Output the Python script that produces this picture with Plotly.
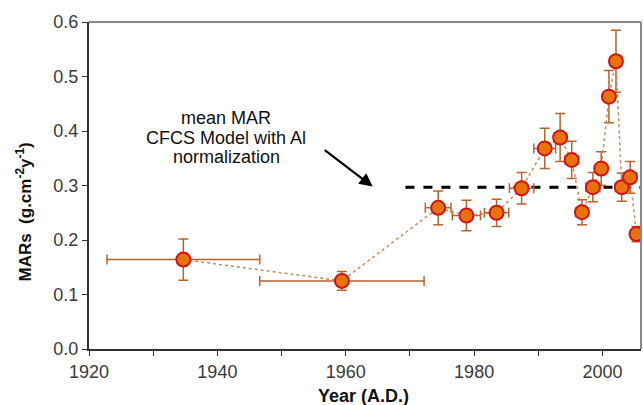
import plotly.graph_objects as go

years = [1934.7, 1959.4, 1974.4, 1978.8, 1983.5, 1987.4, 1991.0, 1993.4, 1995.2,
         1996.8, 1998.5, 1999.8, 2001.0, 2002.1, 2003.0, 2004.3, 2005.3]
mars = [0.164, 0.125, 0.259, 0.245, 0.250, 0.295, 0.368, 0.388, 0.347,
        0.251, 0.297, 0.331, 0.463, 0.528, 0.297, 0.315, 0.211]
year_err = [11.9, 12.8, 2.0, 2.2, 1.9, 1.9, 1.7, 1.0, 1.0,
            1.0, 1.1, 0.9, 0.9, 0.9, 1.0, 1.0, 0.9]
mar_err = [0.038, 0.017, 0.031, 0.028, 0.025, 0.029, 0.037, 0.044, 0.034,
           0.023, 0.027, 0.031, 0.048, 0.057, 0.026, 0.029, 0.014]
mean_mar = 0.297
mean_x = [1969.3, 2006]
y_ticks = [0.0, 0.1, 0.2, 0.3, 0.4, 0.5, 0.6]
x_ticks = [1920, 1940, 1960, 1980, 2000]
note_lines = ["mean MAR", "CFCS Model with Al", "normalization"]
note_y = [0.4236, 0.388, 0.352]

FONT = "Liberation Sans, Arial, sans-serif"
err_col = "#B8632C"
fig = go.Figure()
fig.add_trace(go.Scatter(
    x=mean_x, y=[mean_mar, mean_mar], mode="lines",
    line=dict(color="black", width=3, dash="dash"), showlegend=False, hoverinfo="skip"))
fig.add_trace(go.Scatter(
    x=years, y=mars, mode="lines+markers",
    line=dict(color="#C98A5A", width=1.5, dash="dot"),
    marker=dict(size=14, color="#E8730A", line=dict(color="#D41414", width=2)),
    error_x=dict(type="data", array=year_err, color=err_col, thickness=1.5, width=5),
    error_y=dict(type="data", array=mar_err, color=err_col, thickness=1.5, width=5),
    showlegend=False))

fig.add_annotation(x=1964.2, y=0.298, ax=1956.5, ay=0.367, xref="x", yref="y",
                   axref="x", ayref="y", text="", showarrow=True,
                   arrowhead=2, arrowsize=1.2, arrowwidth=2.2, arrowcolor="black")
for line_text, ly in zip(note_lines, note_y):
    fig.add_annotation(x=1941.4, y=ly, xref="x", yref="y", showarrow=False,
                       text=line_text, xanchor="center", yanchor="middle",
                       font=dict(family=FONT, size=18, color="#111"))

fig.add_annotation(x=-0.118, y=0.42, xref="paper", yref="paper", showarrow=False,
                   text="<b>MARs&nbsp;&nbsp;(g.cm<sup>-2</sup>y<sup>-1</sup>)</b>", textangle=-90,
                   xanchor="center", yanchor="middle",
                   font=dict(family=FONT, size=17, color="#111"))
fig.add_annotation(x=0.497, y=-0.144, xref="paper", yref="paper", showarrow=False,
                   text="<b>Year (A.D.)</b>", xanchor="center", yanchor="middle",
                   font=dict(family=FONT, size=18, color="#111"))

axis_font = dict(family=FONT, size=18, color="#3a3a3a")
fig.update_layout(
    width=643, height=405, margin=dict(l=89, r=2, t=22, b=56),
    plot_bgcolor="white", paper_bgcolor="white",
    font=dict(family=FONT),
    xaxis=dict(range=[1920, 2006], tickvals=x_ticks, ticks="outside", ticklen=5,
               tickcolor="#333", showline=True, linecolor="#333", linewidth=2,
               showgrid=False, zeroline=False, tickfont=axis_font,
               minor=dict(dtick=10, ticks="outside", ticklen=5, tickcolor="#333", showgrid=False)),
    yaxis=dict(range=[0, 0.6], tickvals=y_ticks, tickformat=".1f", ticks="outside",
               ticklen=5, tickcolor="#333", showline=True, linecolor="#333", linewidth=2,
               showgrid=False, zeroline=False, tickfont=axis_font),
)
fig.add_shape(type="line", xref="paper", yref="paper", x0=0, x1=1, y0=1, y1=1,
              line=dict(color="#888", width=2))
fig.add_shape(type="line", xref="paper", yref="paper", x0=1, x1=1, y0=0, y1=1,
              line=dict(color="#888", width=2))
fig.write_html("out.html")
